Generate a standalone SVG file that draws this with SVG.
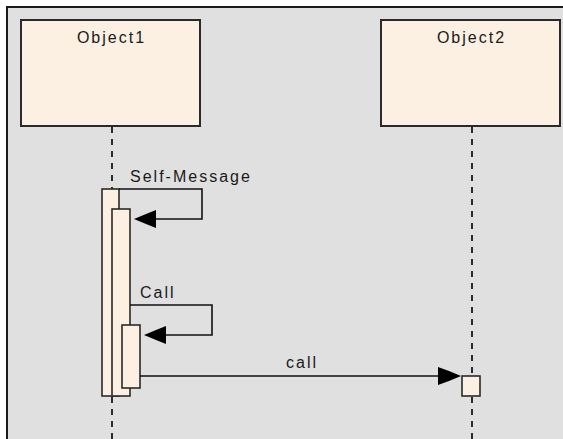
<svg xmlns="http://www.w3.org/2000/svg" width="563" height="439" viewBox="0 0 563 439">
<style>
.box{fill:#fbf0e2;stroke:#2a2a2a;stroke-width:2}
.act{fill:#fbf0e2;stroke:#2a2a2a;stroke-width:1.6}
.life{stroke:#2a2a2a;stroke-width:2;stroke-dasharray:6,6;fill:none}
.msg{stroke:#111;stroke-width:1.6;fill:none}
.head{fill:#000}
text{font-family:"Liberation Sans",Arial,sans-serif;font-size:16px;letter-spacing:2px;fill:#1a1a1a}
</style>
<rect x="0" y="0" width="563" height="439" fill="#ffffff"/>
<rect x="7" y="7" width="570" height="450" fill="#e0e0e0" stroke="#1a1a1a" stroke-width="2"/>
<g id="object1">
<rect class="box" x="21" y="20" width="179" height="106"/>
<text x="111.5" y="43" text-anchor="middle">Object1</text>
<line class="life" x1="112" y1="127" x2="112" y2="189"/>
<line class="life" x1="112" y1="397" x2="112" y2="439"/>
<rect class="act" x="102" y="189" width="17" height="207"/>
<rect class="act" x="112" y="209" width="18" height="187"/>
<rect class="act" x="122" y="325" width="18" height="63"/>
</g>
<g id="object2">
<rect class="box" x="381" y="20" width="179" height="106"/>
<text x="471.5" y="43" text-anchor="middle">Object2</text>
<line class="life" x1="472" y1="127" x2="472" y2="376"/>
<line class="life" x1="472" y1="397" x2="472" y2="439"/>
<rect class="act" x="462" y="376" width="18" height="20"/>
</g>
<g id="connectors">
<polyline class="msg" points="119,189 202,189 202,219 150,219"/>
<polygon class="head" points="134,219 146,214 156,210 156,228 146,224"/>
<text x="130" y="182">Self-Message</text>
<polyline class="msg" points="130,305 212,305 212,335 160,335"/>
<polygon class="head" points="144,335 156,330 166,326 166,344 156,340"/>
<text x="140" y="298">Call</text>
<line class="msg" x1="140" y1="376" x2="445" y2="376"/>
<polygon class="head" points="461,376 449,371 438,367 438,385 449,381"/>
<text x="286" y="368">call</text>
</g>
</svg>
